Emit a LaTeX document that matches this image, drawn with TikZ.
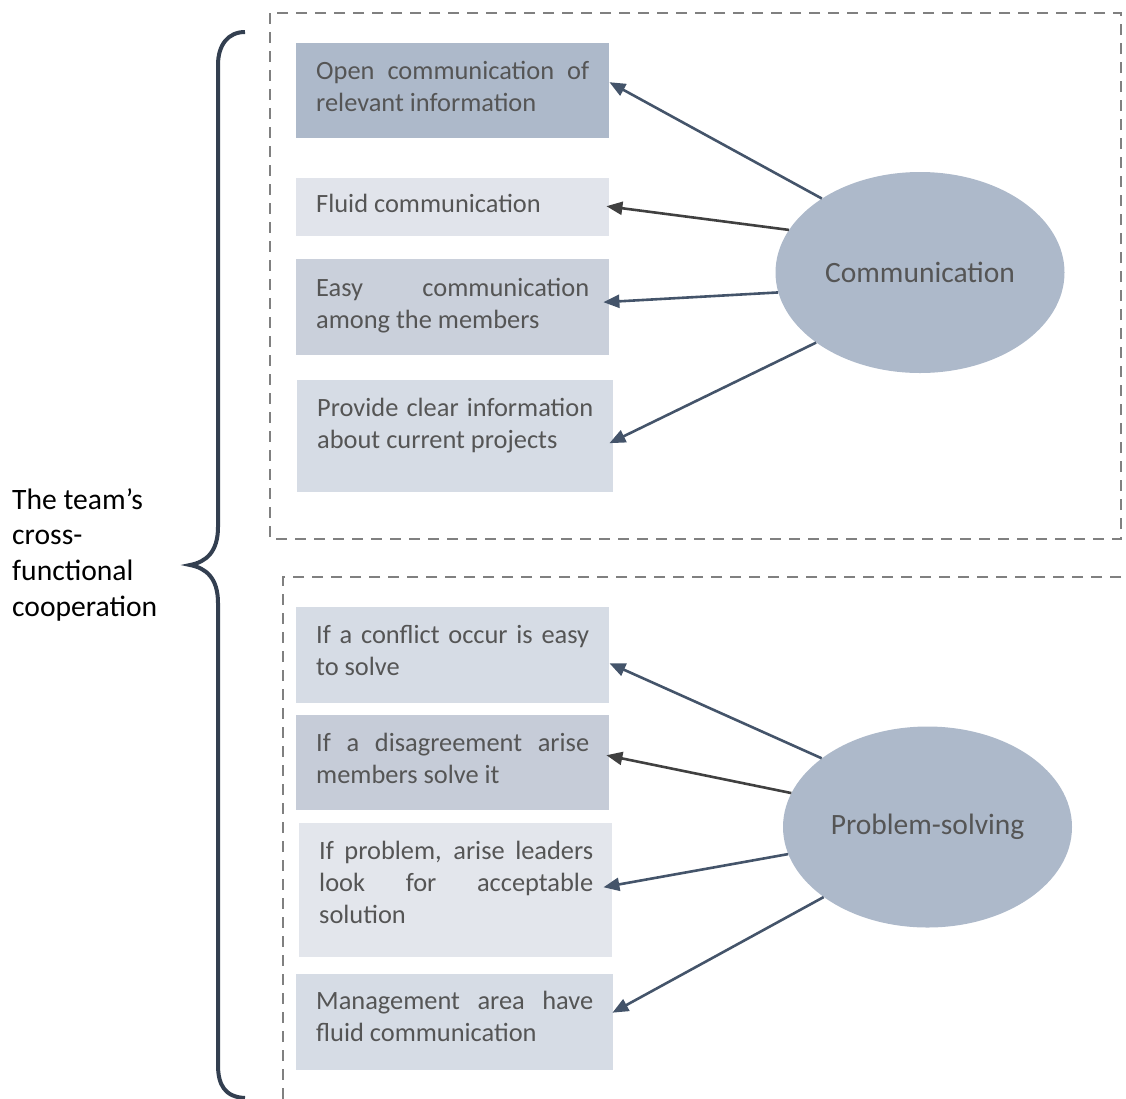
\documentclass[tikz,border=0pt]{standalone}
\usepackage{fontspec}
\setmainfont{Carlito}
\usetikzlibrary{shapes.geometric,arrows.meta}

\definecolor{txtgray}{HTML}{555555}
\definecolor{framegray}{HTML}{808080}
\definecolor{bracenavy}{HTML}{333F50}
\definecolor{arrowblue}{HTML}{44546A}
\definecolor{arrowdark}{HTML}{404040}
\definecolor{hubfill}{HTML}{ADB9CA}
\definecolor{fillA}{HTML}{ADB9CA}
\definecolor{fillB}{HTML}{E1E4EB}
\definecolor{fillC}{HTML}{CAD0DB}
\definecolor{fillD}{HTML}{D6DCE5}
\definecolor{fillE}{HTML}{C6CCD8}
\definecolor{fillF}{HTML}{E3E6EC}

\newcommand\cardfont{\fontsize{26.4pt}{32.3pt}\selectfont
  \hyphenpenalty=10000 \exhyphenpenalty=10000 \tolerance=10000}
\newcommand\hubfont{\fontsize{29.5pt}{35pt}\selectfont}
\newcommand\labelfont{\fontsize{29.6pt}{35.7pt}\selectfont}
\newcommand\fl{\rule{0pt}{20pt}}

\begin{document}
\begin{tikzpicture}[x=1pt,y=-1pt,
  card/.style={rectangle, inner sep=0pt, anchor=north west, draw=none},
  cardtext/.style={anchor=north west, inner sep=0pt, text=txtgray,
    text width=273pt, align=justify, font=\cardfont},
  hub/.style={ellipse, fill=hubfill, minimum width=289pt, minimum height=201pt,
    inner sep=0pt, text=txtgray, font=\hubfont},
  link/.style={line width=2.6pt, draw=arrowblue,
    -{Triangle[length=16pt,width=13pt]}},
  darklink/.style={link, draw=arrowdark},
  frame/.style={draw=framegray, line width=2.8pt, dash pattern=on 11pt off 8pt}
]
\useasboundingbox (0,0) rectangle (1126,1098);
\clip (0,0) rectangle (1126,1098);

% dashed group frames
\draw[frame] (270,13) rectangle (1121,539);
\draw[frame] (1121,577) -- (283,577) -- (283,1110);

% curly brace
\draw[draw=bracenavy, line width=4pt]
  (245,32) .. controls (228,32) and (218,45) .. (218,65)
  -- (218,527) .. controls (218,552) and (206,562) .. (190,565)
  .. controls (206,568) and (218,578) .. (218,603)
  -- (218,1065) .. controls (218,1085) and (225,1097) .. (245,1098);

% left label
\node[anchor=north west, inner sep=0pt, align=left, font=\labelfont]
  (team) at (12,487) {\rule{0pt}{22pt}The team’s\\cross-\\functional\\cooperation};

% communication cards
\node[card, fill=fillA, minimum width=313pt, minimum height=95pt]  (b1) at (296,43) {};
\node[card, fill=fillB, minimum width=313pt, minimum height=58pt]  (b2) at (296,178) {};
\node[card, fill=fillC, minimum width=313pt, minimum height=96pt]  (b3) at (296,259) {};
\node[card, fill=fillD, minimum width=316pt, minimum height=112pt] (b4) at (297,380) {};

\node[cardtext] (t1) at (316,59)  {\fl Open communication of\linebreak relevant information};
\node[cardtext] (t2) at (316,192) {\fl Fluid communication};
\node[cardtext] (t3) at (316,276) {\fl Easy communication\linebreak among the members};
\node[cardtext, text width=276pt] (t4) at (317,396) {\fl Provide clear information\linebreak about current projects};

% problem-solving cards
\node[card, fill=fillD, minimum width=313pt, minimum height=96pt]  (b5) at (296,607) {};
\node[card, fill=fillE, minimum width=313pt, minimum height=95pt]  (b6) at (296,715) {};
\node[card, fill=fillF, minimum width=313pt, minimum height=134pt] (b7) at (299,823) {};
\node[card, fill=fillD, minimum width=317pt, minimum height=96pt]  (b8) at (296,974) {};

\node[cardtext] (t5) at (316,623) {\fl If a conflict occur is easy\linebreak to solve};
\node[cardtext] (t6) at (316,731) {\fl If a disagreement arise\linebreak members solve it};
\node[cardtext, text width=274pt] (t7) at (319,839) {\fl If problem, arise leaders\linebreak look for acceptable\linebreak solution};
\node[cardtext, text width=277pt] (t8) at (316,989) {\fl Management area have\linebreak fluid communication};

% hubs
\node[hub] (comm) at (920,272.5) {Communication};
\node[hub] (solve) at (927.5,827) {Problem-solving};

% connectors
\draw[link]     (comm.143.1) -- ([yshift=8.5pt]b1.east);
\draw[darklink] (comm.162.0) -- ([xshift=-3pt,yshift=1pt]b2.east);
\draw[link]     (comm.188.1) -- ([xshift=-6pt,yshift=5pt]b3.east);
\draw[link]     (comm.214.4) -- ([xshift=-4pt,yshift=-7pt]b4.east);

\draw[link]     (solve.147.6) -- ([yshift=-8pt]b5.east);
\draw[darklink] (solve.166.9) -- ([xshift=-3pt,yshift=7.5pt]b6.east);
\draw[link]     (solve.191.0) -- ([xshift=-9pt,yshift=3pt]b7.east);
\draw[link]     (solve.214.0) -- ([xshift=-1pt,yshift=9.5pt]b8.east);
\end{tikzpicture}
\end{document}
